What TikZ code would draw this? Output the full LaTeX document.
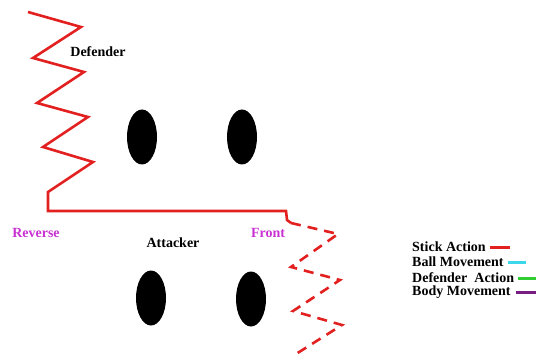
\documentclass[tikz,border=0pt]{standalone}
\usepackage{fontspec}
\setmainfont{Liberation Serif}
\usetikzlibrary{shapes.geometric}

\definecolor{stickred}{RGB}{226,32,32}
\definecolor{sidepink}{RGB}{200,50,210}
\definecolor{ballcyan}{RGB}{60,215,235}
\definecolor{defgreen}{RGB}{50,205,50}
\definecolor{bodypurple}{RGB}{120,30,130}

\begin{document}
\begin{tikzpicture}[
            x = 1pt, y = -1pt,
            every node/.style={font=\bfseries\fontsize{14}{16}\selectfont, inner sep=0pt},
            line/.style={line width = 2.6pt, stickred, line join=miter},
            player/.style={ellipse, fill=black, minimum width=30pt, minimum height=55pt},
            side/.style={text=sidepink},
            key/.style={line width = 3pt},
            ]

        \useasboundingbox (0,0) rectangle (540,358);

        % players
        \node[player] (d1) at (142,137) {};
        \node[player] (d2) at (242,137) {};
        \node[player] (a1) at (151,298) {};
        \node[player] (a2) at (251,299) {};

        \node (defender) at (98,52) {Defender};
        \node (attacker) at (173,243) {Attacker};
        \node[side] (reverse) at (36,233) {Reverse};
        \node[side] (front) at (268,233) {Front};

        % stick path: reverse side then front side
        \draw[line] (28,12) -- (81,27) -- (33,58) -- (84,72) -- (37,103) -- (88,117)
            -- (43,147) -- (93,162) -- (48,192) -- (48,211) -- (286,211) -- (287,220) -- (291,223);
        \draw[line, dash pattern=on 10pt off 7pt] (291,223) -- (338,234) -- (291,267)
            -- (340,280) -- (293,311) -- (342,325) -- (296,354);

        % key
        \node[anchor=west] (stick) at (412,247) {Stick Action};
        \node[anchor=west] (ball) at (412,262) {Ball Movement};
        \node[anchor=west] (defact) at (412,278) {Defender\ \ Action};
        \node[anchor=west] (body) at (412,292) {Body Movement};

        \draw[key, stickred] ([xshift=4pt]stick.east) -- ++(20,0);
        \draw[key, ballcyan] ([xshift=4pt]ball.east) -- ++(18,0);
        \draw[key, defgreen] ([xshift=4pt]defact.east) -- ++(18,0);
        \draw[key, bodypurple] ([xshift=5pt]body.east) -- ++(20,0);
    \end{tikzpicture}
\end{document}
